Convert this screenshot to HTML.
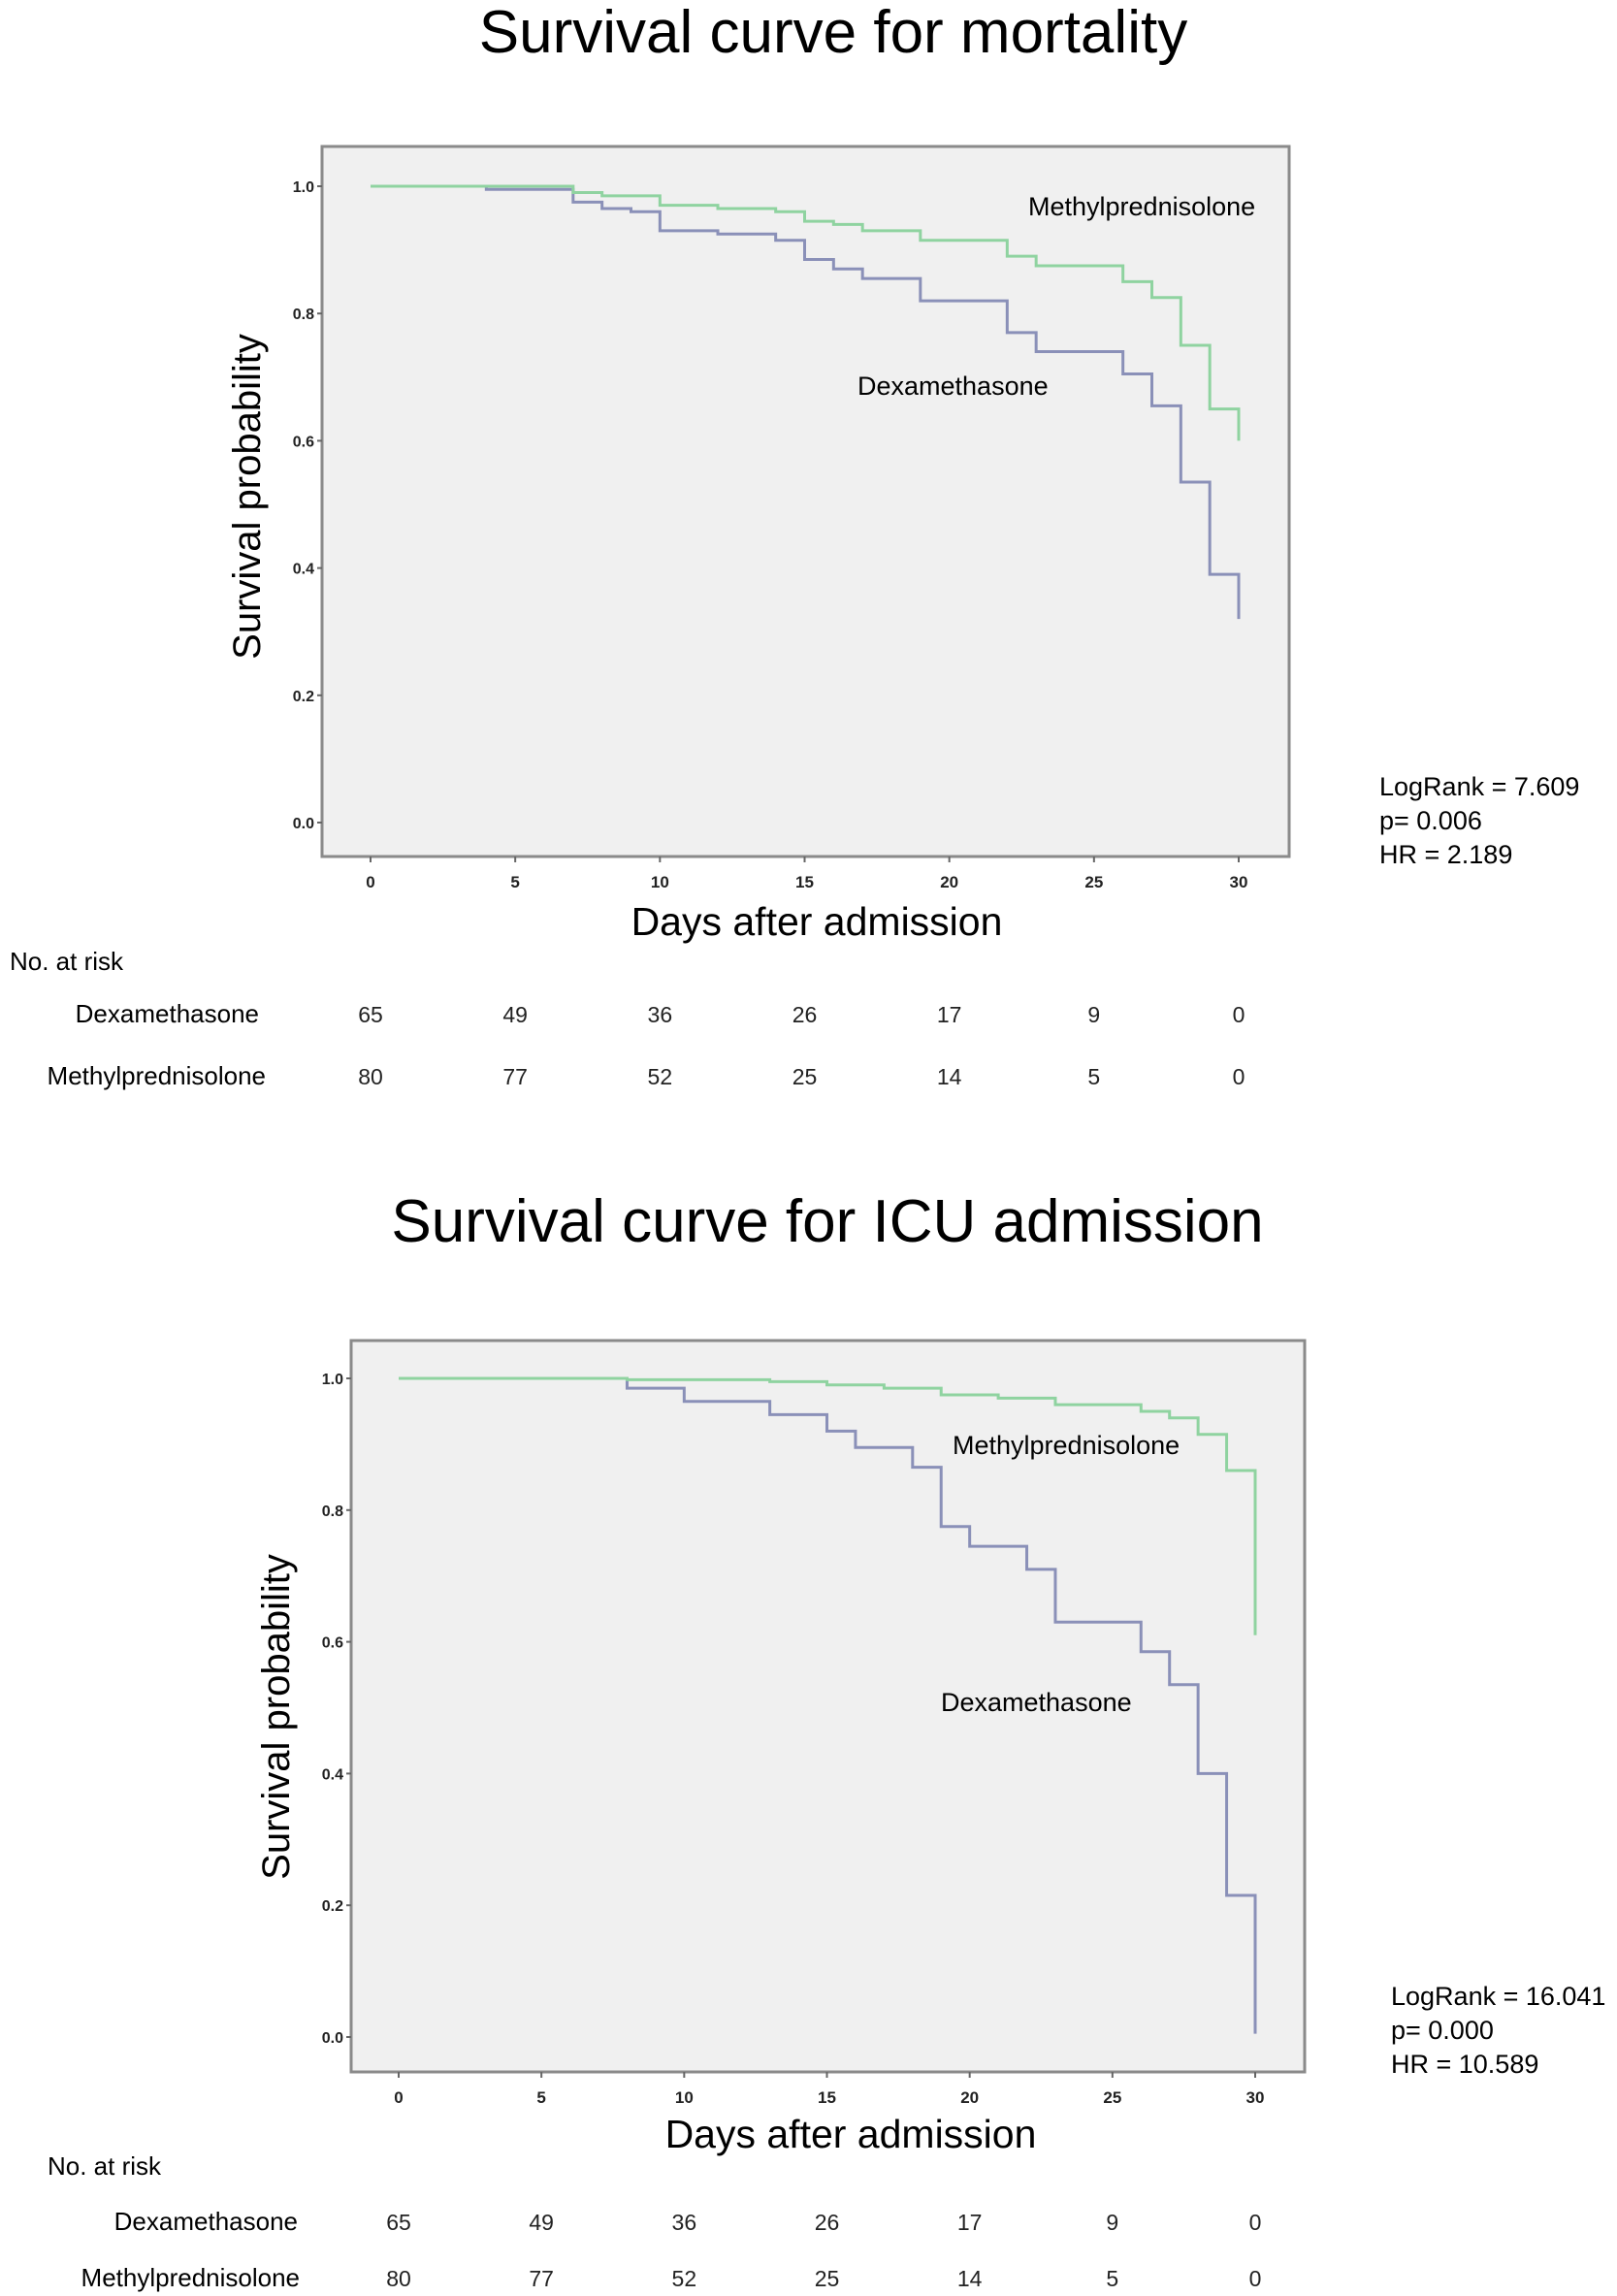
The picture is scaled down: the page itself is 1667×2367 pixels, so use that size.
<!DOCTYPE html>
<html><head><meta charset="utf-8"><style>
html,body{margin:0;padding:0;background:#fff;}
svg{display:block;font-family:"Liberation Sans",sans-serif;}
</style></head><body>
<svg id="fig" width="1667" height="2367" viewBox="0 0 1667 2367"></svg>
<script>
// ---- Chart 1 (mortality) data ----
const xTicks = [0,5,10,15,20,25,30];
const yTicks = [0.0,0.2,0.4,0.6,0.8,1.0];
const m1Times = [0,7,8,10,12,14,15,16,17,19,22,23,26,27,28,29,30];
const m1Surv  = [1.0,0.99,0.985,0.97,0.965,0.96,0.945,0.94,0.93,0.915,0.89,0.875,0.85,0.825,0.75,0.65,0.60];
const d1Times = [0,4,7,8,9,10,12,14,15,16,17,19,22,23,26,27,28,29,30];
const d1Surv  = [1.0,0.995,0.975,0.965,0.96,0.93,0.925,0.915,0.885,0.87,0.855,0.82,0.77,0.74,0.705,0.655,0.535,0.39,0.32];
const risk1Dexa = [65,49,36,26,17,9,0];
const risk1Methyl = [80,77,52,25,14,5,0];
// ---- Chart 2 (ICU) data ----
const m2Times = [0,8,13,15,17,19,21,23,26,27,28,29,30];
const m2Surv  = [1.0,0.998,0.995,0.99,0.985,0.975,0.97,0.96,0.95,0.94,0.915,0.86,0.61];
const d2Times = [0,8,10,13,15,16,18,19,20,22,23,26,27,28,29,30];
const d2Surv  = [1.0,0.985,0.965,0.945,0.92,0.895,0.865,0.775,0.745,0.71,0.63,0.585,0.535,0.40,0.215,0.005];
const risk2Dexa = [65,49,36,26,17,9,0];
const risk2Methyl = [80,77,52,25,14,5,0];

const NS="http://www.w3.org/2000/svg";
const svg=document.getElementById('fig');
function mk(tag,attrs,parent){const e=document.createElementNS(NS,tag);for(const k in attrs)e.setAttribute(k,attrs[k]);(parent||svg).appendChild(e);return e;}
function txt(s,attrs,parent){const e=mk('text',attrs,parent);e.textContent=s;return e;}

function chart(cfg){
  const g=mk('g',{});
  
  
  const xs=v=>cfg.x0+(cfg.x30-cfg.x0)*v/30;
  const ys=v=>cfg.y0+(cfg.y1-cfg.y0)*v;
  let t=txt(cfg.title,{x:cfg.titleX,y:cfg.titleY,'font-size':62,'text-anchor':'middle'},g);
  
  
  let r=mk('rect',{x:cfg.fl,y:cfg.ft,width:cfg.fr-cfg.fl,height:cfg.fb-cfg.ft,fill:'#f0f0f0',stroke:'#8a8a8a','stroke-width':3},g);
  
  
  yTicks.forEach(v=>{
    mk('line',{x1:cfg.fl-5,x2:cfg.fl,y1:ys(v),y2:ys(v),stroke:'#666','stroke-width':2},g);
    const l=txt(v.toFixed(1),{x:cfg.fl-8,y:ys(v)+6,'font-size':16,'font-weight':'bold','text-anchor':'end',fill:'#222'},g);
    
    
  });
  xTicks.forEach(v=>{
    mk('line',{x1:xs(v),x2:xs(v),y1:cfg.fb,y2:cfg.fb+6,stroke:'#666','stroke-width':2},g);
    const l=txt(String(v),{x:xs(v),y:cfg.fb+32,'font-size':17,'font-weight':'bold','text-anchor':'middle',fill:'#222'},g);
    
    
  });
  function step(times,surv,color,name){
    let d='M'+xs(times[0])+','+ys(surv[0]);
    for(let i=1;i<times.length;i++){d+=' H'+xs(times[i])+' V'+ys(surv[i]);}
    const p=mk('path',{d:d,fill:'none',stroke:color,'stroke-width':3},g);
    
    
  }
  step(cfg.dT,cfg.dS,'#8a90b8','dexamethasone-curve');
  step(cfg.mT,cfg.mS,'#8fd3a0','methylprednisolone-curve');
  t=txt('Methylprednisolone',{x:cfg.mlX,y:cfg.mlY,'font-size':27},g);
  
  
  t=txt('Dexamethasone',{x:cfg.dlX,y:cfg.dlY,'font-size':27},g);
  
  
  t=txt('Survival probability',{x:0,y:0,'font-size':40,'text-anchor':'middle',transform:`translate(${cfg.ytX},${cfg.ytY}) rotate(-90)`},g);
  
  
  t=txt('Days after admission',{x:cfg.xtX,y:cfg.xtY,'font-size':41,'text-anchor':'middle'},g);
  
  
  cfg.stats.forEach((s,i)=>{
    const e=txt(s,{x:cfg.stX,y:cfg.stY+i*35,'font-size':27},g);
    
    
  });
  t=txt('No. at risk',{x:cfg.narX,y:cfg.narY,'font-size':26},g);
  
  
  t=txt('Dexamethasone',{x:cfg.rlRight,y:cfg.rdY,'font-size':26,'text-anchor':'end'},g);
  
  
  t=txt('Methylprednisolone',{x:cfg.rlRight2,y:cfg.rmY,'font-size':26,'text-anchor':'end'},g);
  
  
  xTicks.forEach((v,i)=>{
    let e=txt(String(cfg.rD[i]),{x:xs(v),y:cfg.rdY,'font-size':23,'text-anchor':'middle',fill:'#222'},g);
    
    
    e=txt(String(cfg.rM[i]),{x:xs(v),y:cfg.rmY,'font-size':23,'text-anchor':'middle',fill:'#222'},g);
    
    
  });
}

chart({name:'mortality-chart',title:'Survival curve for mortality',titleX:859,titleY:54,
  fl:332,fr:1329,ft:151,fb:883,x0:382,x30:1277,y0:848,y1:192,
  mT:m1Times,mS:m1Surv,dT:d1Times,dS:d1Surv,
  mlX:1060,mlY:222,dlX:884,dlY:407,ytX:268,ytY:512,xtX:842,xtY:964,
  stats:['LogRank = 7.609','p= 0.006','HR = 2.189'],stX:1422,stY:820,
  narX:10,narY:1000,rlRight:267,rlRight2:274,rdY:1054,rmY:1118,rD:risk1Dexa,rM:risk1Methyl});

chart({name:'icu-admission-chart',title:'Survival curve for ICU admission',titleX:853,titleY:1280,
  fl:362,fr:1345,ft:1382,fb:2136,x0:411,x30:1294,y0:2100,y1:1421,
  mT:m2Times,mS:m2Surv,dT:d2Times,dS:d2Surv,
  mlX:982,mlY:1499,dlX:970,dlY:1764,ytX:298,ytY:1770,xtX:877,xtY:2214,
  stats:['LogRank = 16.041','p= 0.000','HR = 10.589'],stX:1434,stY:2067,
  narX:49,narY:2242,rlRight:307,rlRight2:309,rdY:2299,rmY:2357,rD:risk2Dexa,rM:risk2Methyl});
</script>
</body></html>
